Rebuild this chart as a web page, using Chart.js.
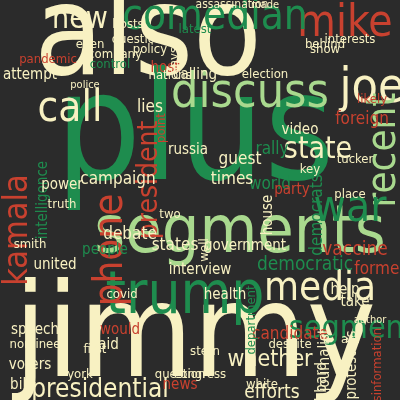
<!DOCTYPE html>
<html>
<head>
<meta charset="utf-8">
<script src="https://cdn.jsdelivr.net/npm/chart.js@4"></script>
<style>
  html, body { margin: 0; padding: 0; background: #2b2b2b; }
  #wrap { width: 400px; height: 400px; }
</style>
</head>
<body>
<div id="wrap"><canvas id="cloud"></canvas></div>
<script>
// word frequencies (weight ~ font px) and where the layout put each word
const words = ['also','plus','jimmy','segments','trump','mike','comedian','discuss','joe','call',
  'new','kamala','phone','recent','war','media','segment','state','president','presidential',
  'debate','campaign','news','efforts','whether','candidate','democratic','democrats','former','vaccine',
  'government','states','people','interview','speech','voters','bill','foreign','rally','world',
  'times','guest','lies','host','policy','hosts','even','attempt','assassination','company',
  'covid','health','house','help','united','nominee','intelligence','power','truth','smith',
  'police','pandemic','video','party','russia','take','york','gabbard','journalist','protesters',
  'misinformation','show','point','two','nations','control','questions','latest','election','tucker',
  'key','place','likely','interests','made','behind','says','calling','question','white',
  'congress','stern','would','said','first','act','despite','author','department','well'];
const xs = [148,195,195,240,185,345,215,250,372,70,
  80,18,112,385,350,320,352,318,150,100,
  130,118,180,272,270,290,305,318,380,355,
  245,175,105,200,35,30,20,362,272,270,
  232,240,150,165,150,128,90,30,232,115,
  122,225,268,345,55,35,43,62,62,30,
  85,48,300,292,188,355,80,322,325,352,
  378,325,162,170,170,110,140,195,265,355,
  310,350,372,350,265,325,175,195,180,262,
  200,205,120,105,95,350,290,370,252,205];
const ys = [42,140,342,235,298,25,18,95,90,110,
  20,230,250,150,210,290,330,150,180,390,
  235,180,385,393,360,335,265,215,270,250,
  246,246,250,270,330,365,385,120,150,185,
  180,160,108,68,50,25,45,75,5,55,
  295,295,215,290,265,345,200,185,205,245,
  85,60,130,190,150,302,375,390,360,365,
  372,50,128,215,76,65,40,30,75,160,
  170,195,100,40,5,45,60,75,375,385,
  375,352,330,345,350,340,345,320,320,250];
const weights = [125,150,130,66,58,44,42,48,48,42,
  30,34,40,40,44,40,32,30,28,26,
  17,17,15,19,23,17,19,17,17,19,
  15,17,15,15,15,15,15,17,17,17,
  17,17,17,15,13,13,13,15,12,13,
  13,15,15,15,15,13,15,15,13,13,
  11,13,15,15,15,15,13,15,15,15,
  13,13,13,13,13,13,13,13,13,13,
  13,13,13,13,11,13,13,15,13,13,
  13,13,15,15,13,13,13,11,13,13];
const angles = [0,0,0,0,0,0,0,0,0,0,
  0,-90,-90,-90,0,0,0,0,-90,0,
  0,0,0,0,0,0,0,-90,0,0,
  0,0,0,0,0,0,0,0,0,0,
  0,0,0,0,0,0,0,0,0,0,
  0,0,-90,0,0,0,-90,0,0,0,
  0,0,0,0,0,0,0,-90,-90,-90,
  -90,0,-90,0,0,0,0,0,0,0,
  0,0,0,0,0,0,-90,0,0,0,
  0,0,0,0,0,0,0,0,-90,-90];
const hues = ['cream','green','cream','lgreen','green','red','green','lgreen','cream','cream',
  'cream','red','red','lgreen','green','cream','green','cream','red','cream',
  'cream','cream','red','cream','cream','red','green','green','red','red',
  'cream','cream','green','cream','cream','cream','cream','red','green','green',
  'cream','cream','cream','red','cream','cream','cream','cream','cream','cream',
  'cream','cream','cream','cream','cream','cream','green','cream','cream','cream',
  'cream','red','cream','red','cream','cream','cream','cream','cream','cream',
  'red','cream','red','cream','cream','green','cream','green','cream','cream',
  'cream','cream','red','cream','cream','cream','cream','cream','cream','cream',
  'cream','cream','red','cream','cream','cream','cream','cream','green','cream'];

const palette = { cream: '#f8f1c2', green: '#1e8c4e', lgreen: '#a9d98e', red: '#c8412f' };

const wordPlugin = {
  id: 'words',
  afterDatasetsDraw(chart) {
    const ctx = chart.ctx;
    const sx = chart.scales.x, sy = chart.scales.y;
    ctx.save();
    ctx.textAlign = 'center';
    ctx.textBaseline = 'middle';
    words.forEach((w, i) => {
      ctx.save();
      ctx.translate(sx.getPixelForValue(xs[i]), sy.getPixelForValue(ys[i]));
      ctx.rotate(angles[i] * Math.PI / 180);
      ctx.font = weights[i] + 'px "DejaVu Sans Condensed", "DejaVu Sans"';
      ctx.fillStyle = palette[hues[i]];
      ctx.fillText(w, 0, 0);
      ctx.restore();
    });
    ctx.restore();
  }
};

new Chart(document.getElementById('cloud'), {
  type: 'scatter',
  data: {
    datasets: [{ data: xs.map((x, i) => ({ x: x, y: ys[i] })), pointRadius: 0 }]
  },
  options: {
    responsive: true,
    maintainAspectRatio: false,
    animation: false,
    layout: { padding: 0 },
    scales: {
      x: { display: false, min: 0, max: 400 },
      y: { display: false, min: 0, max: 400, reverse: true }
    },
    plugins: { legend: { display: false }, tooltip: { enabled: false } }
  },
  plugins: [wordPlugin]
});
</script>
</body>
</html>
